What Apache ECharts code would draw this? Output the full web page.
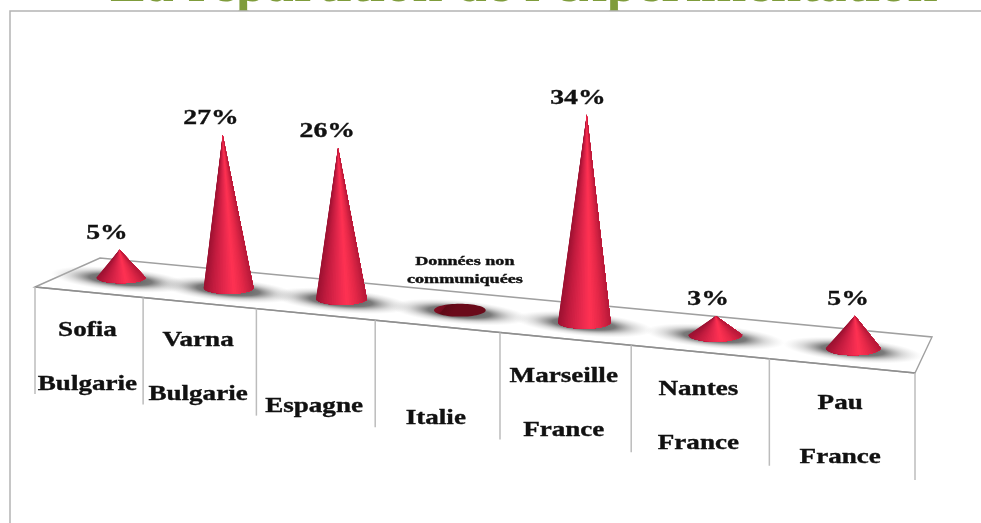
<!DOCTYPE html>
<html><head><meta charset="utf-8">
<style>html,body{margin:0;padding:0;background:#fff}#c{width:981px;height:523px}</style>
<script src="https://cdn.jsdelivr.net/npm/echarts@6/dist/echarts.min.js"></script>
</head><body><div id="c"></div>
<script>
const titleText = "La répartition de l'expérimentation";
const cities = ["Sofia","Varna","","","Marseille","Nantes","Pau"];
const countries = ["Bulgarie","Bulgarie","Espagne","Italie","France","France","France"];
const values = [5,27,26,0,34,3,5];
const valueLabels = ["5%","27%","26%","Données non\ncommuniquées","34%","3%","5%"];

const SERIF = '"Liberation Serif","DejaVu Serif",serif';
const GL = 35, GW = 880;
function warp(px){const u=(px-GL)/GW;return GL+GW*u/(u+1.19*(1-u));}
function project(api,pos,depth){
  const p=api.coord([pos,0]), x=warp(p[0]), u=(x-GL)/GW;
  return {
    fx:x, fy:p[1]+0.0977*(x-GL),
    x:x+depth*(65-48*u),
    y:p[1]+0.0977*(x-GL)-depth*(29+7*u)
  };
}
function hex(c){return [1,3,5].map(i=>parseInt(c.substr(i,2),16));}
const shade=[[-1,'#9c1232'],[-0.6,'#c41c40'],[0,'#f02c50'],[0.22,'#ff3252'],[0.6,'#e42848'],[1,'#b81a3a']];
function shadeAt(t){
  for(let i=1;i<shade.length;i++){
    if(t<=shade[i][0]){
      const a=shade[i-1],b=shade[i],f=(t-a[0])/(b[0]-a[0]),A=hex(a[1]),B=hex(b[1]);
      return 'rgb('+A.map((v,k)=>Math.round(v+(B[k]-v)*f)).join(',')+')';
    }
  }
  return shade[shade.length-1][1];
}

function renderFloor(params,api){
  const i=api.value(0), ch=[];
  if(i<7){
    const a=project(api,i,0), b=project(api,i+1,0);
    if(i===0){
      const c=project(api,7,0), d=project(api,7,1), e=project(api,0,1);
      ch.push({type:'polygon',shape:{points:[[a.x,a.y],[e.x,e.y],[d.x,d.y],[c.x,c.y]]},
        style:{fill:'#fff',stroke:'#a0a0a0',lineWidth:1.4}});
    }
    ch.push({type:'line',shape:{x1:a.x,y1:a.y,x2:b.x,y2:b.y},style:{stroke:'#8f8f8f',lineWidth:1.4}});
  }
  const f=project(api,i,0);
  ch.push({type:'line',shape:{x1:f.x,y1:f.y,x2:f.x,y2:f.y+107},style:{stroke:'#bcbcbc',lineWidth:1.5}});
  return {type:'group',children:ch};
}

function renderShadow(params,api){
  const i=api.value(0), c=project(api,i+0.5,0.5);
  return {type:'circle',shape:{cx:0,cy:0,r:70},x:c.x+1,y:c.y+2,scaleY:0.17,rotation:-0.09,
    style:{fill:{type:'radial',x:0.5,y:0.5,r:0.5,colorStops:[
      {offset:0,color:'rgba(55,55,55,0.9)'},{offset:0.45,color:'rgba(85,85,85,0.78)'},
      {offset:0.72,color:'rgba(165,165,165,0.42)'},{offset:1,color:'rgba(210,210,210,0)'}]}}};
}

function coneCenter(api,i){
  const c=project(api,i+0.5,0.5);
  c.x+=1.5;
  return c;
}
function renderCone(params,api){
  const i=api.value(0), v=api.value(1), c=coneCenter(api,i);
  const rx=24+0.004*c.x, ry=5.5+0.002*c.x;
  const y0=api.coord([0,0])[1];
  const h=(y0-api.coord([0,v])[1])*(5.38+0.00125*c.x)/6;
  const ch=[];
  if(h<=0){
    ch.push({type:'ellipse',shape:{cx:c.x,cy:c.y,rx,ry},style:{fill:{type:'linear',x:0,y:0,x2:0.3,y2:1,colorStops:[
      {offset:0,color:'#8a1026'},{offset:0.5,color:'#740b1e'},{offset:0.55,color:'#5e0916'},{offset:1,color:'#6a0a1a'}]}}});
    return {type:'group',children:ch};
  }
  const tip=[c.x+(c.x-500)*h*1.42e-4,c.y-h];
  const N=40;
  for(let k=0;k<N;k++){
    const pts=[tip];
    for(let m=k;m<=N;m++){
      const a=Math.PI*m/N;
      pts.push([c.x-rx*Math.cos(a),c.y+ry*Math.sin(a)]);
    }
    const t=-Math.cos(Math.PI*(k+0.5)/N);
    ch.push({type:'polygon',shape:{points:pts},style:{fill:shadeAt(t)}});
  }
  return {type:'group',children:ch};
}

const inkText=(font)=>({font,fill:'#111',stroke:'#111',lineWidth:0.35,align:'center',verticalAlign:'middle'});

function renderValueText(params,api){
  const i=api.value(0), v=api.value(1), c=coneCenter(api,i);
  const y0=api.coord([0,0])[1];
  const h=(y0-api.coord([0,v])[1])*(5.38+0.00125*c.x)/6;
  const lab=valueLabels[i];
  if(h<=0){
    const ls=lab.split('\n');
    return {type:'group',children:ls.map((t,k)=>({type:'text',x:c.x+5,y:c.y-48+18*k,scaleX:1.45,
      style:Object.assign(inkText('bold 12.5px '+SERIF),{text:t})}))};
  }
  const tip=[c.x+(c.x-500)*h*1.42e-4,c.y-h];
  return {type:'text',x:tip[0]-13.5+0.008*c.x,y:tip[1]-16,scaleX:1.32,
    style:Object.assign(inkText('bold 21px '+SERIF),{text:lab})};
}

function renderCategory(params,api){
  const i=api.value(0), m=project(api,i+0.5,0);
  const base=m.y+92, ch=[];
  const txt=(t,y)=>({type:'text',x:m.x-1,y,scaleX:1.29,
    style:Object.assign(inkText('bold 21px '+SERIF),{text:t})});
  if(cities[i]) ch.push(txt(cities[i],base-54));
  ch.push(txt(countries[i],base));
  return {type:'group',children:ch};
}

const idx=values.map((v,i)=>[i,v]);
const chart=echarts.init(document.getElementById('c'),null,{renderer:'canvas'});
chart.setOption({
  animation:false,
  backgroundColor:'#fff',
  title:{text:titleText,left:110,top:-41,padding:0,z:0,
    textStyle:{fontFamily:SERIF,fontWeight:'bold',fontSize:54.7,color:'#7f9c3c'}},
  grid:{left:GL,width:GW,top:47,height:240},
  xAxis:{type:'value',min:0,max:7,show:false},
  yAxis:{type:'value',min:0,max:40,show:false},
  graphic:[
    {type:'polyline',silent:true,z:1,shape:{points:[[10,534],[10,11],[990,11],[990,534]]},style:{fill:'#fff',stroke:'#b4b4b4',lineWidth:1.5}}
  ],
  series:[
    {type:'custom',z:2,clip:false,renderItem:renderFloor,data:[0,1,2,3,4,5,6,7].map(i=>[i,0]),encode:{x:0,y:1}},
    {type:'custom',z:3,clip:false,renderItem:renderShadow,data:idx,encode:{x:0,y:1}},
    {type:'custom',z:4,clip:false,renderItem:renderCone,data:idx,encode:{x:0,y:1}},
    {type:'custom',z:5,clip:false,renderItem:renderValueText,data:idx,encode:{x:0,y:1}},
    {type:'custom',z:5,clip:false,renderItem:renderCategory,data:idx,encode:{x:0,y:1}}
  ]
});
</script></body></html>
